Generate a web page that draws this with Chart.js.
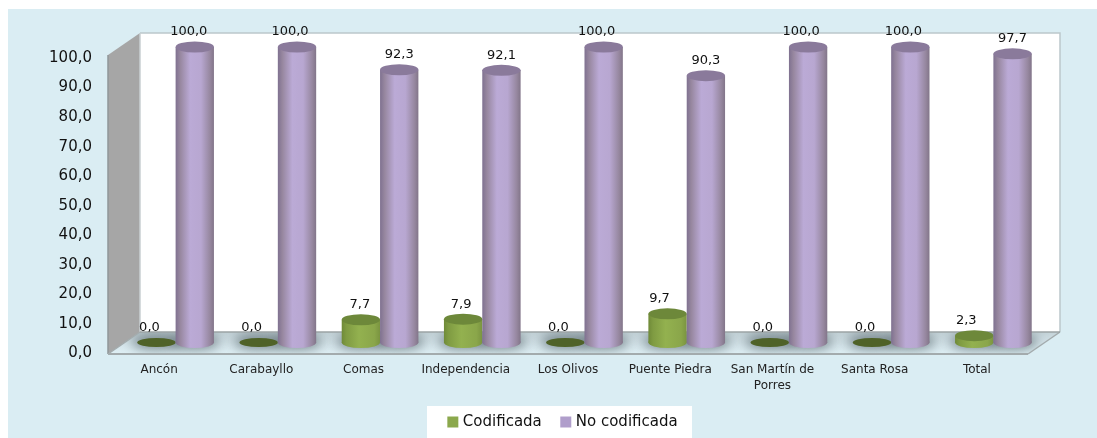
<!DOCTYPE html>
<html><head><meta charset="utf-8">
<style>html,body{margin:0;padding:0;background:#fff}#w{position:relative;width:1097px;height:438px}</style>
<script src="https://cdn.jsdelivr.net/npm/chart.js@4"></script>
</head><body><div id="w"><canvas id="c" width="1097" height="438"></canvas></div>
<script>
const categories = ['Ancón','Carabayllo','Comas','Independencia','Los Olivos','Puente Piedra',['San Martín de','Porres'],'Santa Rosa','Total'];
const codificada = [0,0,7.7,7.9,0,9.7,0,0,2.3];
const noCodificada = [100,100,92.3,92.1,100,90.3,100,100,97.7];
const codificadaLabelShift = [-7,-7,-1,-2,-7,-8,-7,-7,-8];
const noCodificadaLabelShift = [-6,-7,0,0,-7,0,-7,-7,0];
const legendColors = ['#8ba84c', '#b09ecb'];

const DX = 16.5, DY = -11, RY = 5.5, DEPTH_X = 32, DEPTH_Y = 22;
const fmt = v => v.toFixed(1).replace('.', ',');
const FONT = '"DejaVu Sans"';

function makeGrad(chart, idx, dsIndex, stops) {
  const s = chart.scales.x;
  const w = s.width / categories.length * 0.75 / 2;
  const cx = s.getPixelForValue(idx) + (dsIndex === 0 ? -w / 2 : w / 2);
  const g = chart.ctx.createLinearGradient(cx - w / 2, 0, cx + w / 2, 0);
  stops.forEach(st => g.addColorStop(st[0], st[1]));
  return g;
}
const greenStops = [[0,'#6f8a38'],[0.12,'#7f9b42'],[0.45,'#93b14f'],[0.85,'#8aa64a'],[1,'#7a9440']];
const purpleStops = [[0,'#7f7190'],[0.12,'#97879f'],[0.38,'#bbaad6'],[0.66,'#b8a7d1'],[0.9,'#96879f'],[1,'#827589']];
const stopsOf = i => i === 0 ? greenStops : purpleStops;
const fill = (plain, stops) => c => (c.type === 'data' && c.chart.chartArea) ? makeGrad(c.chart, c.dataIndex, c.datasetIndex, stops) : plain;
const topColors = ['#6d883a', '#8a7a9b'];

function drawBases(chart, d, meta) {
  const {ctx} = chart;
  meta.data.forEach((el, i) => {
    if (chart.data.datasets[d].data[i] === 0) return;
    ctx.fillStyle = makeGrad(chart, i, d, stopsOf(d));
    ctx.beginPath();
    ctx.ellipse(el.x, el.base, el.width / 2, RY, 0, 0, Math.PI * 2);
    ctx.fill();
  });
}
function drawTops(chart, d, meta) {
  const {ctx} = chart;
  meta.data.forEach((el, i) => {
    const zero = chart.data.datasets[d].data[i] === 0;
    ctx.fillStyle = zero ? '#4f6228' : topColors[d];
    ctx.beginPath();
    ctx.ellipse(el.x, el.y, el.width / 2, zero ? 4.5 : RY, 0, 0, Math.PI * 2);
    ctx.fill();
  });
}

const scene = {
  id: 'scene',
  beforeDraw(chart) {
    const {ctx} = chart;
    ctx.save();
    ctx.fillStyle = '#daedf3';
    ctx.fillRect(8, 9, 1089, 429);
    ctx.fillStyle = '#ffffff';
    ctx.fillRect(427, 406, 265, 32);
    ctx.restore();
  },
  beforeDatasetsDraw(chart) {
    const {ctx, chartArea: a} = chart;
    const L = a.left, R = a.right, T = a.top - 3, B = a.bottom + 0.5;
    const bl = L + DEPTH_X, br = R + DEPTH_X, tb = T - DEPTH_Y, bb = B - DEPTH_Y;
    ctx.save();
    ctx.fillStyle = '#ffffff';
    ctx.fillRect(bl, tb, br - bl, bb - tb);
    ctx.strokeStyle = '#bcc8cc'; ctx.lineWidth = 1.5;
    ctx.beginPath(); ctx.moveTo(bl, tb); ctx.lineTo(br, tb); ctx.lineTo(br, bb); ctx.stroke();
    ctx.fillStyle = '#a6a6a6';
    ctx.beginPath(); ctx.moveTo(L, T); ctx.lineTo(bl, tb); ctx.lineTo(bl, bb); ctx.lineTo(L, B); ctx.closePath(); ctx.fill();
    ctx.strokeStyle = '#8f9698'; ctx.lineWidth = 1.5;
    ctx.beginPath(); ctx.moveTo(L, T); ctx.lineTo(L, B); ctx.stroke();
    ctx.strokeStyle = '#c8cfd2'; ctx.lineWidth = 1.5;
    ctx.beginPath(); ctx.moveTo(bl, tb); ctx.lineTo(bl, bb); ctx.stroke();
    const floor = new Path2D();
    floor.moveTo(L, B); floor.lineTo(bl, bb); floor.lineTo(br, bb); floor.lineTo(R, B); floor.closePath();
    const g = ctx.createLinearGradient(0, bb, 0, B);
    g.addColorStop(0, '#c3d2d7'); g.addColorStop(0.6, '#d6e6ec'); g.addColorStop(1, '#dff0f5');
    ctx.fillStyle = g; ctx.fill(floor);
    ctx.save(); ctx.clip(floor);
    ctx.filter = 'blur(6px)';
    ctx.fillStyle = 'rgba(70,85,90,0.6)';
    chart.getSortedVisibleDatasetMetas().forEach(m => m.data.forEach(el => {
      ctx.beginPath();
      ctx.ellipse(el.x + DX, el.base + DY - 1, el.width / 2 + 6, RY + 3, 0, 0, Math.PI * 2);
      ctx.fill();
    }));
    ctx.restore();
    ctx.strokeStyle = '#a3abad'; ctx.lineWidth = 2;
    ctx.beginPath(); ctx.moveTo(L, B); ctx.lineTo(R, B); ctx.stroke();
    ctx.lineWidth = 1.5;
    ctx.beginPath(); ctx.moveTo(L, B); ctx.lineTo(bl, bb); ctx.stroke();
    ctx.beginPath(); ctx.moveTo(R, B); ctx.lineTo(br, bb); ctx.stroke();
    ctx.strokeStyle = '#9ba3a5';
    ctx.beginPath(); ctx.moveTo(bl, bb); ctx.lineTo(br, bb); ctx.stroke();
    ctx.restore();
  },
  // Chart.js paints the first dataset last; the purple cylinders must sit on top,
  // so the green ones are painted from their elements just before the purple pass.
  beforeDatasetDraw(chart, args) {
    if (args.index === 0) return false;
    const {ctx} = chart;
    ctx.save();
    ctx.translate(DX, DY);
    const green = chart.getDatasetMeta(0);
    drawBases(chart, 0, green);
    green.data.forEach(el => el.draw(ctx, chart.chartArea));
    drawTops(chart, 0, green);
    drawBases(chart, args.index, args.meta);
  },
  afterDatasetDraw(chart, args) {
    drawTops(chart, args.index, args.meta);
    chart.ctx.restore();
  },
  afterDatasetsDraw(chart) {
    const {ctx} = chart;
    ctx.save();
    ctx.font = '13px ' + FONT;
    ctx.fillStyle = '#111';
    ctx.textAlign = 'center';
    ctx.textBaseline = 'middle';
    [0, 1].forEach(d => {
      const shift = d === 0 ? codificadaLabelShift : noCodificadaLabelShift;
      chart.getDatasetMeta(d).data.forEach((el, i) => {
        ctx.fillText(fmt(chart.data.datasets[d].data[i]), el.x + DX + shift[i], el.y + DY - 15);
      });
    });
    ctx.restore();
  },
  afterLayout(chart) {
    const lg = chart.legend;
    const shift = 564 - (lg.left + lg.right) / 2;
    lg.left += shift; lg.right += shift;
    lg.top = 393;
    chart.scales.x.bottom = 404;
  }
};

new Chart(document.getElementById('c'), {
  type: 'bar',
  data: {
    labels: categories,
    datasets: [
      {label: 'Codificada', data: codificada, backgroundColor: fill(legendColors[0], greenStops), clip: false, borderWidth: 0},
      {label: 'No codificada', data: noCodificada, backgroundColor: fill(legendColors[1], purpleStops), clip: false, borderWidth: 0}
    ]
  },
  options: {
    responsive: false,
    animation: false,
    events: [],
    categoryPercentage: 0.75,
    barPercentage: 1,
    layout: {padding: {left: 0, right: 69, top: 58, bottom: 0}},
    scales: {
      x: {
        grid: {display: false}, border: {display: false},
        afterFit(s) { s.height = 38; },
        ticks: {font: {family: FONT, size: 12, lineHeight: 1.4}, color: '#222', padding: -0.5, autoSkip: false, maxRotation: 0, minRotation: 0}
      },
      y: {
        min: 0, max: 100,
        grid: {display: false}, border: {display: false},
        afterFit(s) { s.width = 108; },
        ticks: {stepSize: 10, font: {family: FONT, size: 15}, color: '#111', padding: 8, callback: v => fmt(v)}
      }
    },
    plugins: {
      tooltip: {enabled: false},
      legend: {
        position: 'bottom',
        labels: {
          boxWidth: 5, boxHeight: 5, padding: 21.5, color: '#111', font: {family: FONT, size: 15},
          generateLabels(chart) {
            return Chart.defaults.plugins.legend.labels.generateLabels(chart).map((it, i) =>
              Object.assign(it, {fillStyle: legendColors[i], strokeStyle: legendColors[i], lineWidth: 6}));
          }
        }
      }
    }
  },
  plugins: [scene]
});
</script></body></html>
